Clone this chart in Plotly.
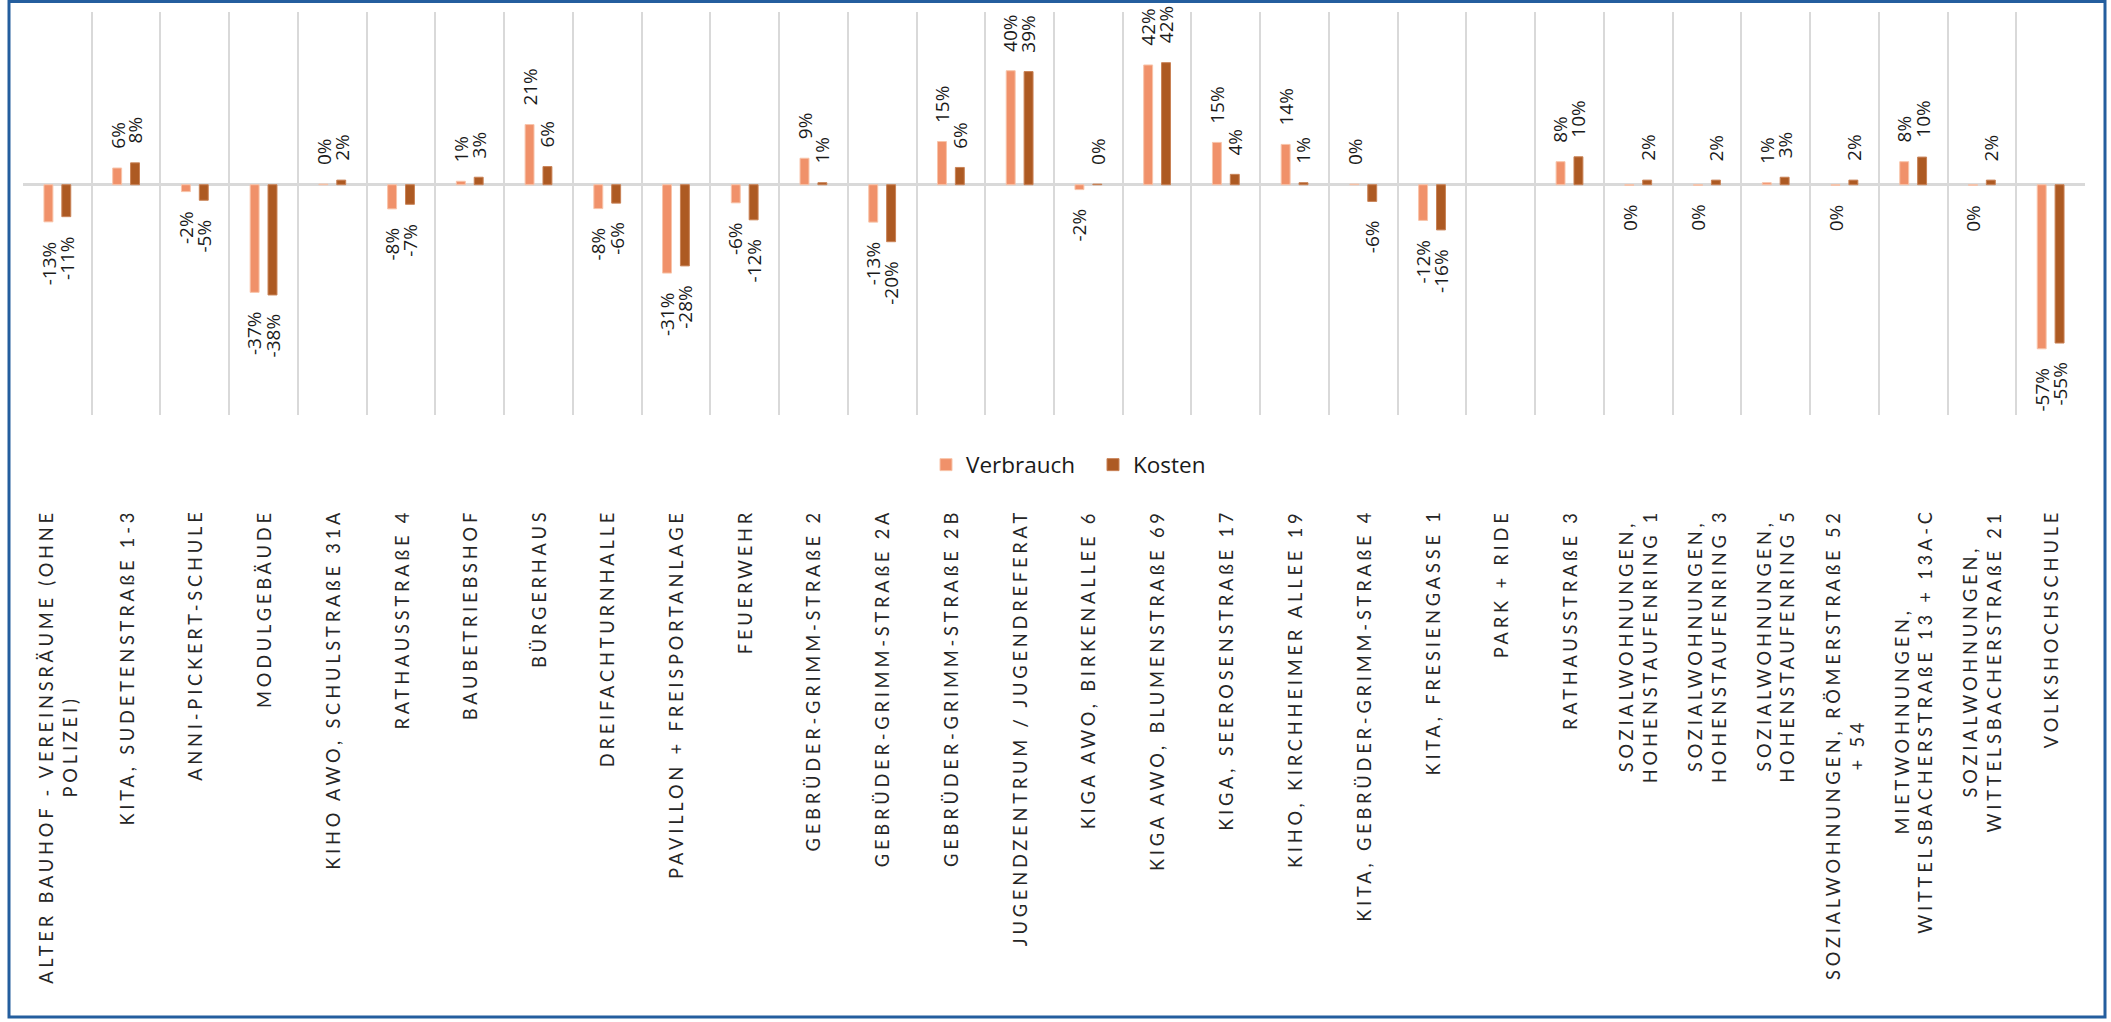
import plotly.graph_objects as go

# ---------------- data ----------------
categories = [
    "ALTER BAUHOF - VEREINSRÄUME (OHNE\nPOLIZEI)",
    "KITA, SUDETENSTRAßE 1-3",
    "ANNI-PICKERT-SCHULE",
    "MODULGEBÄUDE",
    "KIHO AWO, SCHULSTRAßE 31A",
    "RATHAUSSTRAßE 4",
    "BAUBETRIEBSHOF",
    "BÜRGERHAUS",
    "DREIFACHTURNHALLE",
    "PAVILLON + FREISPORTANLAGE",
    "FEUERWEHR",
    "GEBRÜDER-GRIMM-STRAßE 2",
    "GEBRÜDER-GRIMM-STRAßE 2A",
    "GEBRÜDER-GRIMM-STRAßE 2B",
    "JUGENDZENTRUM / JUGENDREFERAT",
    "KIGA AWO, BIRKENALLEE 6",
    "KIGA AWO, BLUMENSTRAßE 69",
    "KIGA, SEEROSENSTRAßE 17",
    "KIHO, KIRCHHEIMER ALLEE 19",
    "KITA, GEBRÜDER-GRIMM-STRAßE 4",
    "KITA, FRESIENGASSE 1",
    "PARK + RIDE",
    "RATHAUSSTRAßE 3",
    "SOZIALWOHNUNGEN,\nHOHENSTAUFENRING 1",
    "SOZIALWOHNUNGEN,\nHOHENSTAUFENRING 3",
    "SOZIALWOHNUNGEN,\nHOHENSTAUFENRING 5",
    "SOZIALWOHNUNGEN, RÖMERSTRAßE 52\n+ 54",
    "MIETWOHNUNGEN,\nWITTELSBACHERSTRAßE 13 + 13A-C",
    "SOZIALWOHNUNGEN,\nWITTELSBACHERSTRAßE 21",
    "VOLKSHOCHSCHULE",
]

# change in percent
verbrauch = [-12.9, 5.8, -2.4, -37.4, 0.2, -8.4, 1.2, 20.9, -8.3, -30.7,
             -6.3, 9.2, -13.0, 15.0, 39.6, -1.7, 41.6, 14.7, 14.0, 0.2,
             -12.4, None, 8.0, -0.2, -0.2, 0.7, -0.2, 8.0, -0.2, -57.0]
kosten = [-11.1, 7.6, -5.4, -38.3, 1.6, -6.8, 2.6, 6.3, -6.4, -28.2,
          -12.2, 0.7, -19.8, 6.0, 39.3, 0.2, 42.4, 3.6, 0.7, -5.8,
          -15.7, None, 9.7, 1.6, 1.6, 2.6, 1.6, 9.6, 1.6, -55.0]

series_names = ["Verbrauch", "Kosten"]
series_colors = ["#F0916A", "#AD5A23"]
series_edges = ["#F8C4AA", "#C98256"]

# ---------------- layout constants ----------------
FIG_W, FIG_H = 2111, 1022
M_L, M_R, M_T, M_B = 23, 26, 12, 607
PLOT_W = FIG_W - M_L - M_R
PLOT_H = FIG_H - M_T - M_B
BARGAP = 0.48
BARGROUPGAP = 0.5
slot = (1 - BARGAP) / 2
FONT = "Open Sans"
CAT_FONT = "Lato"
TXT = "#1a1a1a"

fig = go.Figure()
for name, vals, col, edge in zip(series_names, [verbrauch, kosten], series_colors, series_edges):
    fig.add_trace(go.Bar(
        x=categories, y=vals, name=name,
        marker=dict(color=col, line=dict(color=edge, width=1)),
        hoverinfo="x+y+name",
    ))


def pct_label(v):
    r = int(round(v))
    if r == 0:
        r = 0
    return f"{r}%"


annotations = []
# data labels
for k, vals in enumerate([verbrauch, kosten]):
    off = (-slot / 2) if k == 0 else (slot / 2)
    for i, v in enumerate(vals):
        if v is None:
            continue
        pos = v >= 0
        annotations.append(dict(
            x=i + off, xref="x", y=v, yref="y",
            text=pct_label(v), textangle=-90, showarrow=False,
            xanchor="center", yanchor="bottom" if pos else "top",
            yshift=17 if pos else -17,
            font=dict(family=FONT, size=19, color=TXT),
        ))

# category labels (rotated, centred lines, letter-spaced)
label_top = (M_T + PLOT_H - 507) / PLOT_H
for i, cat in enumerate(categories):
    lines = cat.split("\n")
    txt = "<br>".join(f'<span style="letter-spacing:3.8px">{ln}</span>' for ln in lines)
    annotations.append(dict(
        x=i, xref="x", y=label_top, yref="paper",
        text=txt, textangle=-90, showarrow=False, align="center",
        xanchor="center", yanchor="top",
        font=dict(family=CAT_FONT, size=18.3, color="#262626"),
    ))

# outer blue frame in pixel terms -> paper coordinates
bx0, bx1, by_top, by_bot = 9, 2105, 1.5, 1017
shapes = [dict(
    type="rect", xref="paper", yref="paper", layer="above",
    x0=(bx0 - M_L) / PLOT_W, x1=(bx1 - M_L) / PLOT_W,
    y0=(M_T + PLOT_H - by_bot) / PLOT_H, y1=(M_T + PLOT_H - by_top) / PLOT_H,
    line=dict(color="#245E9E", width=3), fillcolor="rgba(0,0,0,0)",
)]

fig.update_layout(
    width=FIG_W, height=FIG_H,
    margin=dict(l=M_L, r=M_R, t=M_T, b=M_B, autoexpand=False),
    paper_bgcolor="white", plot_bgcolor="white",
    barmode="group", bargap=BARGAP, bargroupgap=BARGROUPGAP,
    showlegend=True,
    legend=dict(
        orientation="h", x=(1093 - M_L) / PLOT_W, xanchor="center",
        y=(M_T + PLOT_H - 465) / PLOT_H, yanchor="middle",
        font=dict(family=FONT, size=22.5, color=TXT),
        bgcolor="rgba(0,0,0,0)", traceorder="normal",
        entrywidth=122, entrywidthmode="pixels",
    ),
    font=dict(family=FONT, color=TXT),
    annotations=annotations,
    shapes=shapes,
    xaxis=dict(
        type="category", tickson="boundaries", showgrid=True,
        gridcolor="#D9D9D9", gridwidth=2, showticklabels=False, ticks="",
        zeroline=False, showline=False, range=[-0.5, len(categories) - 0.5],
        fixedrange=True,
    ),
    yaxis=dict(
        range=[-80, 60], showgrid=False, showticklabels=False, ticks="",
        zeroline=True, zerolinecolor="#D9D9D9", zerolinewidth=3,
        showline=False, fixedrange=True,
    ),
)

fig.write_html(
    "out.html",
    config={"displayModeBar": False},
    post_script="document.body.style.margin='0px';"
                "document.documentElement.style.overflow='hidden';",
)
